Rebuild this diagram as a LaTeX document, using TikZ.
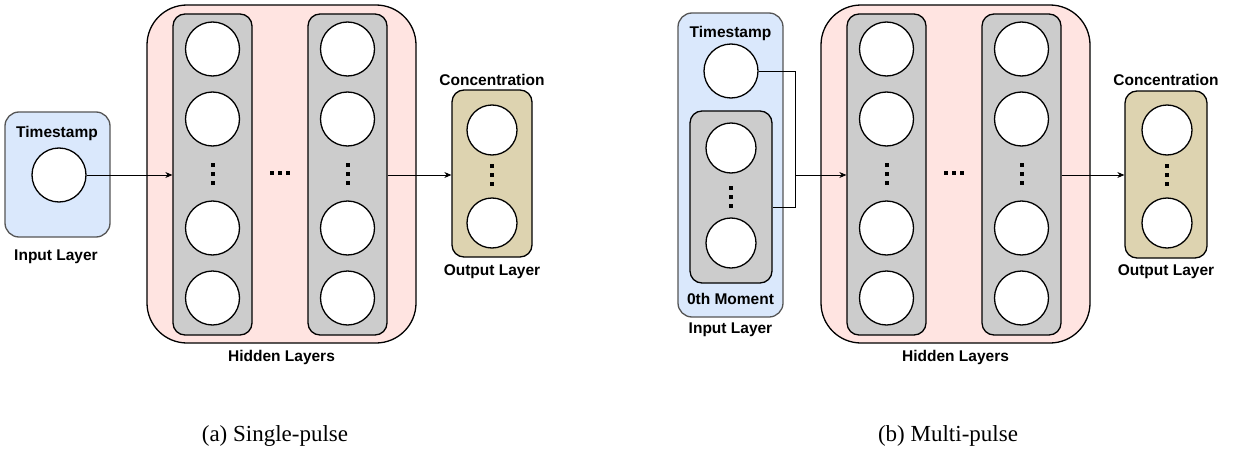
\documentclass[tikz,border=0pt]{standalone}
\usepackage{fontspec}
\setmainfont{Liberation Serif}
\newfontfamily\labfont{Liberation Sans}
\usetikzlibrary{arrows.meta}
\definecolor{inblue}{HTML}{DAE8FC}
\definecolor{inedge}{HTML}{555555}
\definecolor{hidpink}{HTML}{FFE4E1}
\definecolor{colgray}{HTML}{CCCCCC}
\definecolor{outtan}{HTML}{DDD3B0}
\begin{document}
\begin{tikzpicture}[x=1pt,y=-1pt,
  box/.style={draw=black,line width=1.3pt,inner sep=0pt,rectangle,rounded corners=12pt},
  inbox/.style={box,draw=inedge,fill=inblue,rounded corners=14pt},
  hidbox/.style={box,fill=hidpink,rounded corners=40pt},
  colbox/.style={box,fill=colgray},
  outbox/.style={box,fill=outtan},
  neuron/.style={draw=black,line width=1.3pt,fill=white,circle,inner sep=0pt,minimum size=54pt},
  sneuron/.style={neuron,minimum size=50pt},
  lab/.style={font=\labfont\bfseries\fontsize{15.5}{18}\selectfont,inner sep=0pt},
  captext/.style={font=\fontsize{23}{27}\selectfont,inner sep=0pt},
  conn/.style={draw=black,line width=0.8pt},
  arr/.style={conn,-{Stealth[length=7pt,width=6pt]}},
  dotsq/.style={fill=black,inner sep=0pt,minimum size=4pt,rectangle}
]
\useasboundingbox (0,0) rectangle (1233,452);

% ================= (a) Single-pulse =================
\node[inbox,minimum width=105pt,minimum height=125pt] (in1) at (57.5,174.5) {};
\node[neuron] (ts1) at (59,175) {};
\node[lab] (in1t) at (57,133) {Timestamp};
\node[lab] (in1l) at (56,257) {Input Layer};

\node[hidbox,minimum width=269pt,minimum height=338pt] (hid1) at (281.5,174) {};
\node[colbox,minimum width=79pt,minimum height=321pt] (c1a) at (212.5,174.5) {};
\node[colbox,minimum width=79pt,minimum height=321pt] (c1b) at (347.5,174.5) {};
\foreach \y/\n in {49/1,119/2,228/3,298/4}{
  \node[neuron] (a1\n) at (212.5,\y) {};
  \node[neuron] (b1\n) at (347.5,\y) {};
}
\foreach \y/\n in {165/1,174/2,183/3}{
  \node[dotsq] (da1\n) at (212.5,\y) {};
  \node[dotsq] (db1\n) at (347.5,\y) {};
}
\foreach \x/\n in {272/1,280/2,288/3}{
  \node[dotsq] (dh1\n) at (\x,173) {};
}
\node[lab] (hid1l) at (281.5,357) {Hidden Layers};

\node[outbox,minimum width=80pt,minimum height=167pt] (out1) at (492,173.5) {};
\node[sneuron] (o11) at (492,130) {};
\node[sneuron] (o12) at (492,223) {};
\foreach \y/\n in {166/1,175/2,184/3}{
  \node[dotsq] (do1\n) at (492,\y) {};
}
\node[lab] (out1t) at (492,80) {Concentration};
\node[lab] (out1l) at (492,272) {Output Layer};

\draw[arr] (ts1.east) -- (c1a.west |- ts1.east);
\draw[arr] (c1b.east |- 0,175) -- (out1.west |- 0,175);

\node[captext] (capa) at (275,436) {(a) Single-pulse};

% ================= (b) Multi-pulse =================
\node[inbox,minimum width=105pt,minimum height=304pt] (in2) at (730.5,165) {};
\node[lab] (in2t) at (730.5,33) {Timestamp};
\node[neuron] (ts2) at (731,71) {};
\node[colbox,minimum width=82pt,minimum height=172pt] (mom) at (731,197) {};
\node[sneuron] (m1) at (731,148) {};
\node[sneuron] (m2) at (731,243) {};
\foreach \y/\n in {188/1,197/2,206/3}{
  \node[dotsq] (dm\n) at (731,\y) {};
}
\node[lab] (moml) at (730.5,299) {0th Moment};
\node[lab] (in2l) at (730.5,330) {Input Layer};

\node[hidbox,minimum width=269pt,minimum height=338pt] (hid2) at (955.5,174) {};
\node[colbox,minimum width=79pt,minimum height=321pt] (c2a) at (886.5,174.5) {};
\node[colbox,minimum width=79pt,minimum height=321pt] (c2b) at (1021.5,174.5) {};
\foreach \y/\n in {49/1,119/2,228/3,298/4}{
  \node[neuron] (a2\n) at (886.5,\y) {};
  \node[neuron] (b2\n) at (1021.5,\y) {};
}
\foreach \y/\n in {165/1,174/2,183/3}{
  \node[dotsq] (da2\n) at (886.5,\y) {};
  \node[dotsq] (db2\n) at (1021.5,\y) {};
}
\foreach \x/\n in {946/1,954/2,962/3}{
  \node[dotsq] (dh2\n) at (\x,173) {};
}
\node[lab] (hid2l) at (955.5,357) {Hidden Layers};

\node[outbox,minimum width=82pt,minimum height=167pt] (out2) at (1166,174.5) {};
\node[sneuron] (o21) at (1167,130) {};
\node[sneuron] (o22) at (1167,223) {};
\foreach \y/\n in {166/1,175/2,184/3}{
  \node[dotsq] (do2\n) at (1167,\y) {};
}
\node[lab] (out2t) at (1166,80) {Concentration};
\node[lab] (out2l) at (1166,272) {Output Layer};

\coordinate (jb) at (795,207);
\coordinate (ja) at (795,175);
\draw[conn,line width=0.6pt] (ts2.east) -| (jb) -- (mom.east |- jb);
\draw[arr] (ja) -- (c2a.west |- ja);
\draw[arr] (c2b.east |- 0,175) -- (out2.west |- 0,175);

\node[captext] (capb) at (948,436) {(b) Multi-pulse};
\end{tikzpicture}
\end{document}
